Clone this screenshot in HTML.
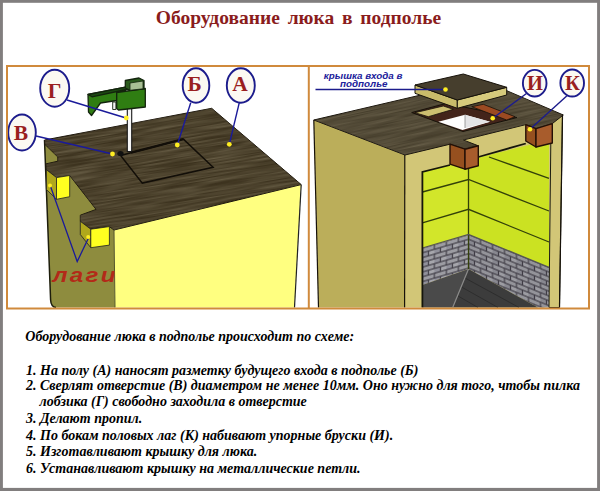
<!DOCTYPE html>
<html lang="ru">
<head>
<meta charset="utf-8">
<title>Оборудование люка в подполье</title>
<style>
html,body{margin:0;padding:0;}
body{width:600px;height:491px;overflow:hidden;background:#fff;position:relative;font-family:"Liberation Serif",serif;}
svg{position:absolute;left:0;top:0;}
.title{position:absolute;left:155.8px;top:6.3px;font-family:"Liberation Serif",serif;font-weight:bold;font-size:19.5px;word-spacing:2.9px;color:#8a1c1c;white-space:nowrap;line-height:24px;}
.t{position:absolute;left:26px;font-family:"Liberation Serif",serif;font-weight:bold;font-style:italic;font-size:14px;color:#000;white-space:nowrap;line-height:16px;}
</style>
</head>
<body>
<div class="title">Оборудование люка в подполье</div>

<svg width="600" height="491" viewBox="0 0 600 491">
<defs>
  <filter id="grain" x="0" y="0" width="100%" height="100%">
    <feTurbulence type="fractalNoise" baseFrequency="0.02 0.6" numOctaves="2" seed="3" result="n"/>
    <feColorMatrix type="matrix" values="0 0 0 0 0.50  0 0 0 0 0.44  0 0 0 0 0.29  1.3 0 0 0 -0.35"/>
    <feComposite in2="SourceGraphic" operator="in"/>
  </filter>
  <clipPath id="clipFloorL"><polygon points="44.5,140 211.7,108.3 301.2,184.6 114,230 109.4,226.6 90.8,229.2 80.3,221.3 80.3,215.2 96.1,209.4 69.7,175.5 56.5,177.6 46.4,169.7 45.9,163.9 57.8,161.2 57.8,157 45,144.5"/></clipPath>
  <clipPath id="clipLagi"><rect x="40" y="260" width="74.5" height="30"/></clipPath>
  <clipPath id="clipFloorR"><polygon points="313.8,120 483,80.5 563.3,115 552.3,123.6 536,128.7 525.8,124.6 463.3,140 478.3,145.8 465,149.2 450,144.2 405,155"/></clipPath>
  <pattern id="brickL" width="12" height="9.6" patternUnits="userSpaceOnUse" patternTransform="translate(422.4 248) skewY(-16.3)">
    <rect width="12" height="9.6" fill="#403d46"/>
    <rect x="0.6" y="0.6" width="10.8" height="3.6" fill="#9c9ca2"/>
    <rect x="-5.4" y="5.4" width="10.8" height="3.6" fill="#90909a"/><rect x="6.6" y="5.4" width="10.8" height="3.6" fill="#a6a6ac"/>
  </pattern>
  <pattern id="brickR" width="12" height="9.6" patternUnits="userSpaceOnUse" patternTransform="translate(468.5 234.4) skewY(22.2)">
    <rect width="12" height="9.6" fill="#403d46"/>
    <rect x="0.6" y="0.6" width="10.8" height="3.6" fill="#94949a"/>
    <rect x="-5.4" y="5.4" width="10.8" height="3.6" fill="#888890"/><rect x="6.6" y="5.4" width="10.8" height="3.6" fill="#9c9ca2"/>
  </pattern>
</defs>

<!-- ============ LEFT DIAGRAM ============ -->
<g id="left">
  <!-- olive left face -->
  <path d="M44.5,140 L114,228 L115,307.5 L56,307.5 Q51,307 50.6,300 Z" fill="#8e8c3e"/>
  <path d="M44.5,140 L50.6,300 Q51,307 56,307.5" fill="none" stroke="#1d1d0c" stroke-width="1.5"/>
  <!-- light yellow front face -->
  <polygon points="114,229 301,184 294.5,307.5 115,307.5" fill="#ffff80"/>
  <polyline points="301.2,184.6 294.5,307.5" fill="none" stroke="#222" stroke-width="1.2"/>
  <polyline points="114,230 115,307.5" fill="none" stroke="#55552a" stroke-width="1"/>
  <!-- floor -->
  <polygon points="44.5,140 211.7,108.3 301.2,184.6 114,230 109.4,226.6 90.8,229.2 80.3,221.3 80.3,215.2 96.1,209.4 69.7,175.5 56.5,177.6 46.4,169.7 45.9,163.9 57.8,161.2 57.8,157 45,144.5" fill="#3d331f" stroke="#1c160c" stroke-width="1" stroke-linejoin="round"/>
  <g clip-path="url(#clipFloorL)"><rect x="0" y="60" width="340" height="220" fill="#fff" filter="url(#grain)" opacity="0.42" transform="rotate(-9 170 170)"/></g>
  <!-- joist 1 -->
  <polygon points="46.4,169.7 56.5,177.6 56.5,199.3 46.4,189.5" fill="#b0a81c" stroke="#222" stroke-width="0.8"/>
  <polygon points="56.5,177.6 69.7,175.5 69.7,196.7 56.5,199.3" fill="#ffff20" stroke="#222" stroke-width="0.8"/>
  <!-- joist 2 -->
  <polygon points="80.3,221.3 90.8,229.2 90.8,247.7 80.3,234.5" fill="#b0a81c" stroke="#222" stroke-width="0.8"/>
  <polygon points="90.8,229.2 109.4,226.6 109.4,245.1 90.8,247.7" fill="#ffff20" stroke="#222" stroke-width="0.8"/>
  <!-- hatch marking -->
  <polygon points="120.6,155.5 183.4,139.1 213.1,167.3 142.3,183.1" fill="none" stroke="#120e08" stroke-width="1.5"/>
  <line x1="131" y1="152.6" x2="183.4" y2="139.1" stroke="#120e08" stroke-width="2.4"/>
  <!-- jigsaw blade -->
  <rect x="127.3" y="108" width="4.4" height="43.5" fill="#f6f6f6" stroke="#1a1a1a" stroke-width="1.1"/>
  <ellipse cx="120.5" cy="153.5" rx="3.2" ry="2.6" fill="#111"/>
  <!-- jigsaw -->
  <g stroke="#13240d" stroke-width="1.3" stroke-linejoin="round">
    <polygon points="88,94.5 125.5,87.2 125.5,90.5 116.7,93 116.7,100.5 100.5,103 91.5,115.5 88.5,112" fill="#2f7d12"/>
    <polygon points="88,94.5 125.5,87.2 128.5,89 92,96.8" fill="#1c4a12"/>
    <polygon points="116.7,92.5 145.3,88.5 145.3,107 118.5,110 116.7,108.5" fill="#2f7d12"/>
    <polygon points="125.3,80.5 139,78 144,80.5 144,88.8 130,90.3 125.3,88" fill="#2a5a1c"/>
    <polygon points="130,83 143,81 143,88.8 130,90.3" fill="#a8bf94" stroke-width="0.8"/>
    <rect x="112.7" y="102" width="3.2" height="7.5" fill="#f2f2f2" stroke-width="0.9"/>
  </g>
  <!-- leader lines -->
  <g stroke="#1a1a9a" stroke-width="1.4" fill="none">
    <line x1="67" y1="100" x2="126" y2="118"/>
    <line x1="36" y1="136" x2="112.5" y2="154"/>
    <line x1="190.7" y1="102.7" x2="177.3" y2="145"/>
    <line x1="239.3" y1="102.7" x2="229.3" y2="144.3"/>
    <polyline points="50,185 77.2,261.5 88.5,238" stroke-width="1.3"/>
  </g>
  <g fill="#ffee22">
    <circle cx="126.3" cy="118" r="2.4"/>
    <circle cx="112.5" cy="154" r="2.4"/>
    <circle cx="177.3" cy="145" r="2.4"/>
    <circle cx="229.3" cy="144.3" r="2.4"/>
    <circle cx="50" cy="185.5" r="2"/>
    <circle cx="88.2" cy="237" r="2"/>
  </g>
  <!-- label circles -->
  <g fill="#fbf9f2" stroke="#1c1c8c" stroke-width="1.9">
    <ellipse cx="54.7" cy="88.2" rx="14.5" ry="18.5"/>
    <ellipse cx="22" cy="132.5" rx="13.8" ry="18"/>
    <ellipse cx="196" cy="85.5" rx="13.3" ry="17.2"/>
    <ellipse cx="240.8" cy="85.5" rx="14" ry="17.2"/>
  </g>
  <g font-family="Liberation Serif, serif" font-weight="bold" font-size="21.5" fill="#9a1f1f" text-anchor="middle">
    <text x="54.7" y="97.8">Г</text>
    <text x="20.8" y="139.7">В</text>
    <text x="194.7" y="90.8">Б</text>
    <text x="240" y="90.8">А</text>
  </g>
  <g clip-path="url(#clipLagi)"><text transform="translate(52.4 282.2) scale(1.18 1)" font-family="Liberation Sans, sans-serif" font-style="italic" font-weight="bold" font-size="20.5" fill="#b32a18" letter-spacing="2">лаги</text></g>
</g>

<!-- ============ RIGHT DIAGRAM ============ -->
<g id="right">
  <!-- olive front-left face -->
  <polygon points="313.8,120 405,155 404.6,307.5 318.5,307.5" fill="#bbae5a"/>
  <!-- front wall (khaki) incl. interior backing -->
  <polygon points="404.6,155 562.5,114.5 559.5,307.5 404.6,307.5" fill="#d2c677"/>
  <!-- interior: left inner wall (lime) -->
  <polygon points="422.4,172 468.5,160 468.5,234.4 422.4,248" fill="#d2e62a"/>
  <!-- interior: back inner wall (lime) -->
  <polygon points="468.5,160 549,140 549,267.3 468.5,234.4" fill="#cbe222"/>
  <!-- bricks -->
  <polygon points="422.4,248.5 468.5,235 468.5,269 422.4,285" fill="url(#brickL)"/>
  <polygon points="468.5,234.4 549,267.3 549,307.5 538,307.5 468.5,269" fill="url(#brickR)"/>
  <!-- cellar floor -->
  <polygon points="422.4,285 468.5,269 452.7,307.5 422.4,307.5" fill="#4a4a4a"/>
  <polygon points="468.5,269 538,307.5 452.7,307.5" fill="#3c3c3c"/>
  <g stroke="#2a2a2a" stroke-width="0.8" fill="none">
    <line x1="465" y1="278" x2="519" y2="307.5"/><line x1="461.5" y1="287" x2="498" y2="307.5"/><line x1="458" y1="296" x2="478" y2="307.5"/>
  </g>
  <line x1="468.5" y1="269" x2="452.7" y2="307.5" stroke="#8a8a8a" stroke-width="1.2"/>
  <!-- board lines -->
  <g stroke="#33400a" stroke-width="1.3" fill="none">
    <polyline points="422.4,192 468.5,179.5 549,211"/>
    <polyline points="422.4,222.8 468.5,209.3 549,242"/>
    <line x1="489" y1="157" x2="549" y2="178.4"/>
    <line x1="468.5" y1="160" x2="468.5" y2="269"/>
    <polyline points="422.4,248 468.5,234.4 549,267.3" stroke="#555"/>
  </g>
  <!-- right wall khaki -->
  <polygon points="551,124 562.5,114.5 559.5,307.5 549,307.5" fill="#d2c677" stroke="#1b1b10" stroke-width="1"/>
  <!-- inner opening outline -->
  <polyline points="422.4,307.5 422.4,172 450,165" fill="none" stroke="#15150a" stroke-width="1.8"/>
  <!-- top band of front wall -->
  <polygon points="404.6,155 450,143.5 450,164 465,169 478.3,166 478.3,147 525.8,135 525.8,141 536,147 549,143.5 549,124 562.5,114.5 562.5,307.5" fill="none"/>
  <polyline points="478.3,157 525.8,143.5" fill="none" stroke="#15150a" stroke-width="1.8"/>
  <!-- floor (dark) -->
  <polygon points="313.8,120 483,80.5 563.3,115 552.3,123.6 536,128.7 525.8,124.6 463.3,140 478.3,145.8 465,149.2 450,144.2 405,155" fill="#473f2d" stroke="#17120a" stroke-width="1" stroke-linejoin="round"/>
  <g clip-path="url(#clipFloorR)"><rect x="300" y="40" width="300" height="160" fill="#fff" filter="url(#grain)" opacity="0.35" transform="rotate(-12 440 120)"/></g>
  <!-- blocks -->
  <g stroke="#241006" stroke-width="1.4" stroke-linejoin="round">
    <polygon points="450,144.2 465,149.2 465,169.2 450,164.2" fill="#96501f"/>
    <polygon points="465,149.2 478.3,145.8 478.3,165.8 465,169.2" fill="#a85c2c"/>
    <polygon points="525.8,124.6 536,128.7 536,147 525.8,141" fill="#96501f"/>
    <polygon points="536,128.7 552.3,123.6 552.3,143 536,147" fill="#a85c2c"/>
  </g>
  <!-- hatch opening -->
  <polygon points="411.7,112.5 446,103.5 517,117.5 463,131.5" fill="#43241a" stroke="#17120a" stroke-width="1"/>
  <polygon points="415,112.7 443.3,106 453.3,109.3 428.3,116.7" fill="#cdbf70" stroke="#17120a" stroke-width="0.8"/>
  <polygon points="471.7,106.7 483.3,104.3 515,116.7 506.7,120" fill="#9b4a22" stroke="#17120a" stroke-width="0.8"/>
  <polygon points="438.3,121.7 465,114.7 490,121.7 462.5,130" fill="#fdfdfd"/>
  <polygon points="465,114.7 490,121.7 465,128" fill="#e4e4e6"/>
  <line x1="465" y1="114.7" x2="465" y2="128" stroke="#888" stroke-width="0.8"/>
  <!-- lid -->
  <g stroke="#17120a" stroke-width="1" stroke-linejoin="round">
    <polygon points="415,85 457.3,100 457.3,108.3 415,93.3" fill="#c9bb6a"/>
    <polygon points="457.3,100 506.7,87.3 506.7,95 457.3,108.3" fill="#d6ca7c"/>
    <polygon points="415,85 463.3,74 506.7,87.3 457.3,100" fill="#463e2d"/>
  </g>
  <!-- annotation -->
  <g font-family="Liberation Sans, sans-serif" font-weight="bold" font-style="italic" fill="#20209a">
    <text x="323.8" y="78.7" font-size="9.2" textLength="78.7" lengthAdjust="spacingAndGlyphs">крышка входа в</text>
    <text x="340" y="86.7" font-size="9.2" textLength="47.5" lengthAdjust="spacingAndGlyphs">подполье</text>
  </g>
  <g stroke="#1c1c8c" stroke-width="1.4" fill="none">
    <line x1="315.5" y1="89.5" x2="445" y2="89.5"/>
    <line x1="526.5" y1="93.5" x2="492.7" y2="118.3"/>
    <line x1="566.7" y1="96" x2="530" y2="129.3"/>
  </g>
  <g fill="#ffee22">
    <circle cx="445.5" cy="89.5" r="2.3"/>
    <circle cx="492.7" cy="118.3" r="2.3"/>
    <circle cx="530" cy="129.3" r="2.3"/>
  </g>
  <g fill="#fbf9f2" stroke="#1c1c8c" stroke-width="1.9">
    <ellipse cx="534.7" cy="83.2" rx="11.8" ry="13.3"/>
    <ellipse cx="572.2" cy="83" rx="11.8" ry="13.5"/>
  </g>
  <g font-family="Liberation Serif, serif" font-weight="bold" font-size="20.5" fill="#9a1f1f" text-anchor="middle">
    <text x="535" y="90">И</text>
    <text x="572.4" y="90">К</text>
  </g>
  <!-- outlines -->
  <g stroke="#17120a" stroke-width="1.2" fill="none">
    <polyline points="313.8,120 318.5,307.5"/>
    <line x1="404.8" y1="155" x2="404.6" y2="307.5"/>
    <line x1="562.5" y1="115" x2="559.5" y2="307.5"/>
  </g>
</g>

<!-- outer grey border -->
<g fill="#817e7e">
  <rect x="0" y="0" width="600" height="2.8"/>
  <rect x="0" y="0" width="2.9" height="491"/>
  <rect x="597.1" y="0" width="2.9" height="491"/>
  <rect x="0" y="487.9" width="600" height="3.1"/>
</g>
<!-- orange frame -->
<rect x="7" y="66" width="582" height="242.5" fill="none" stroke="#d08a3c" stroke-width="2"/>
<line x1="308.8" y1="66" x2="308.8" y2="308.5" stroke="#d08a3c" stroke-width="2"/>
</svg>

<div class="t" style="top:329.3px;left:25.3px;">Оборудование люка в подполье происходит по схеме:</div>
<div class="t" style="top:362.7px;">1. На полу (А) наносят разметку будущего входа в подполье (Б)</div>
<div class="t" style="top:377.6px;">2. Сверлят отверстие (В) диаметром не менее 10мм. Оно нужно для того, чтобы пилка</div>
<div class="t" style="top:393.5px;left:39.5px;">лобзика (Г) свободно заходила в отверстие</div>
<div class="t" style="top:410.5px;">3. Делают пропил.</div>
<div class="t" style="top:427.8px;">4. По бокам половых лаг (К) набивают упорные бруски (И).</div>
<div class="t" style="top:444px;">5. Изготавливают крышку для люка.</div>
<div class="t" style="top:461.2px;">6. Устанавливают крышку на металлические петли.</div>

</body>
</html>
